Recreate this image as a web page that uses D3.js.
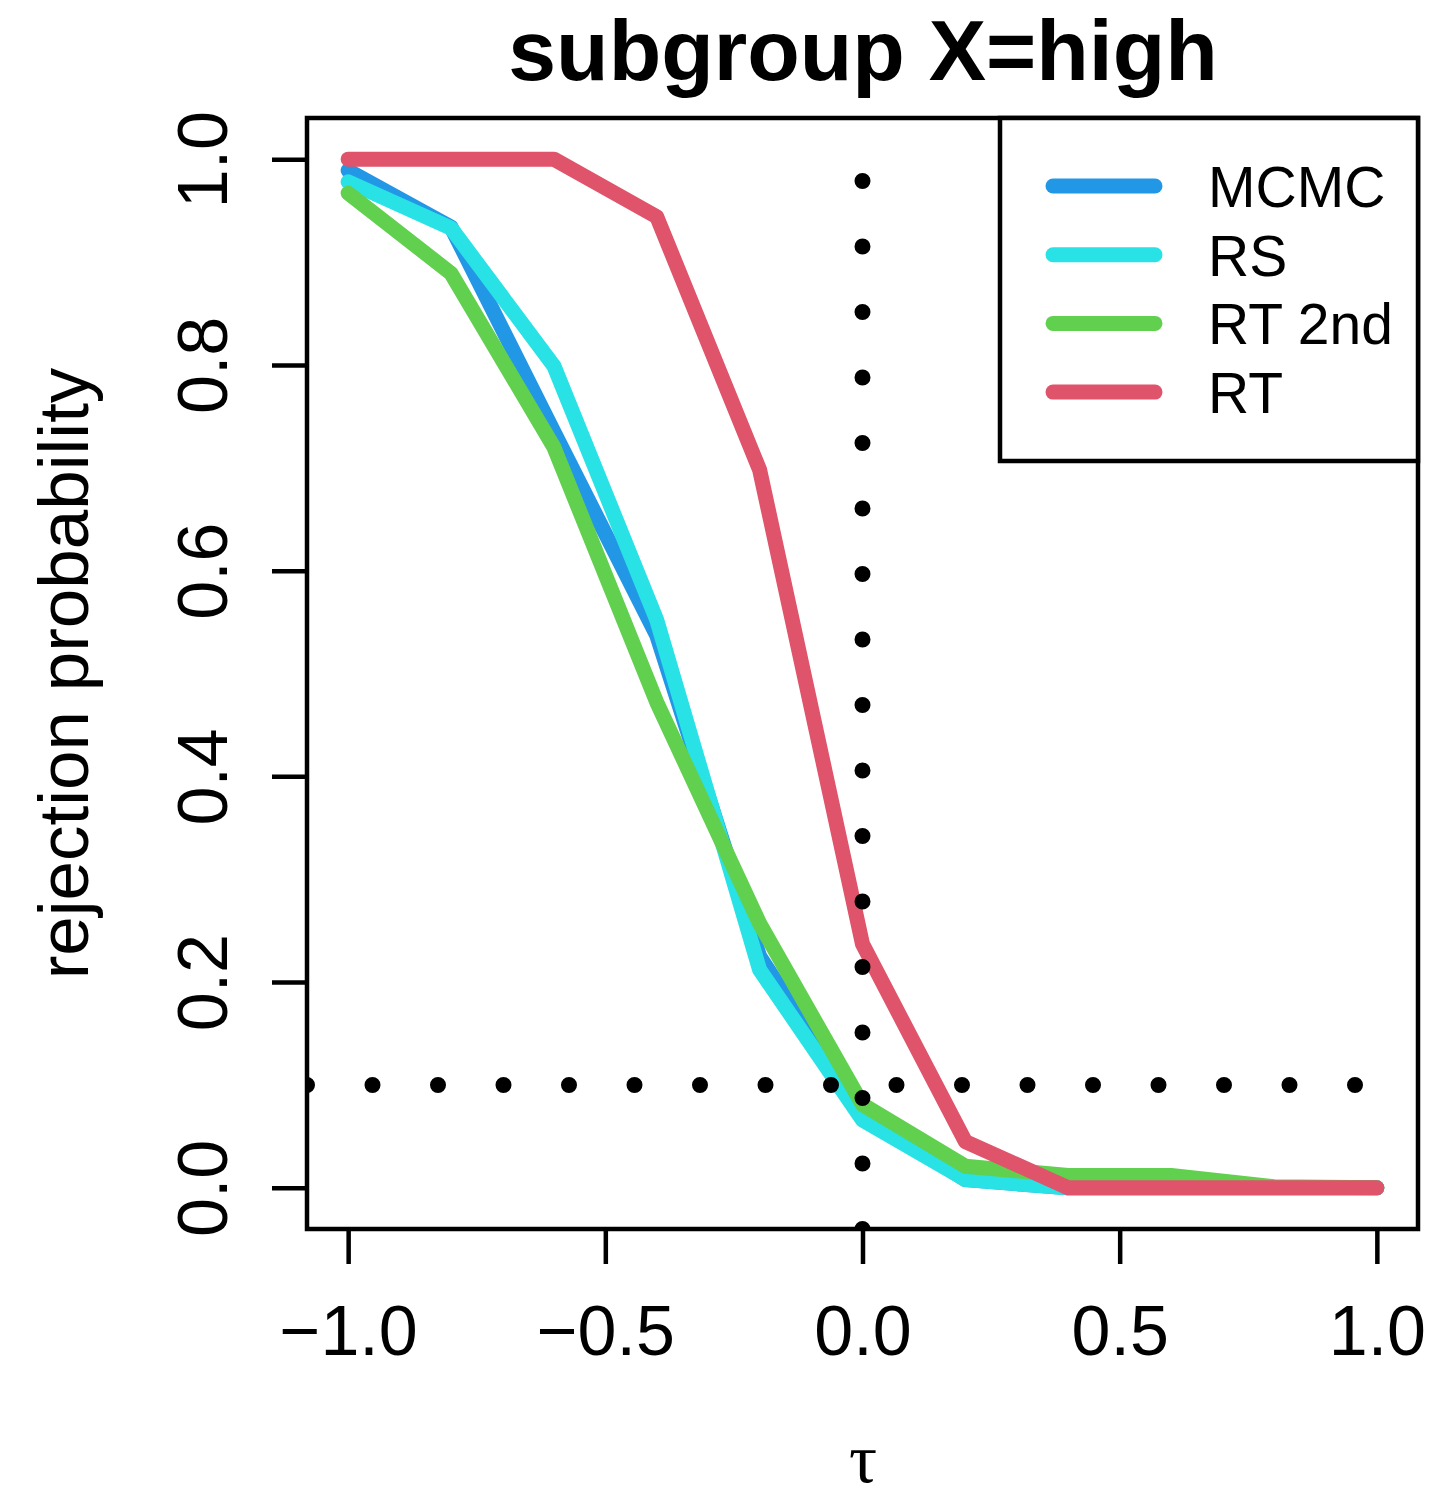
<!DOCTYPE html>
<html>
<head>
<meta charset="utf-8">
<script src="https://cdn.jsdelivr.net/npm/d3@7"></script>
<style>
  body { margin: 0; background: #fff; }
  svg text { font-family: "Liberation Sans", Arial, Helvetica, sans-serif; fill: #000; }
</style>
</head>
<body>
<div id="chart"></div>
<script>
// data
var tau = [-1, -0.8, -0.6, -0.4, -0.2, 0, 0.2, 0.4, 0.6, 0.8, 1];
var mcmc = [0.989, 0.934, 0.735, 0.537, 0.225, 0.072, 0.008, 0, 0, 0, 0];
var rs   = [0.978, 0.933, 0.799, 0.552, 0.212, 0.066, 0.008, 0, 0, 0, 0];
var rt2  = [0.967, 0.889, 0.720, 0.472, 0.257, 0.081, 0.021, 0.012, 0.012, 0.001, 0];
var rt   = [1, 1, 1, 0.944, 0.698, 0.237, 0.045, 0, 0, 0, 0];

var seriesNames = ["MCMC", "RS", "RT 2nd", "RT"];
var seriesColors = ["#2297E6", "#28E2E5", "#61D04F", "#DF536B"];
var seriesValues = [mcmc, rs, rt2, rt];

var xTicks = [-1, -0.5, 0, 0.5, 1];
var yTicks = [0, 0.2, 0.4, 0.6, 0.8, 1];
var alphaLevel = 0.1;

var width = 1439, height = 1498;
var plot = {left: 307, right: 1418, top: 118, bottom: 1229};

var svg = d3.select("#chart").append("svg")
  .attr("width", width)
  .attr("height", height);

var x = d3.scaleLinear().domain([-1.08, 1.08]).range([plot.left, plot.right]);
var y = d3.scaleLinear().domain([-0.04, 1.04]).range([plot.bottom, plot.top]);

svg.append("clipPath").attr("id", "clip")
  .append("rect")
  .attr("x", plot.left).attr("y", plot.top)
  .attr("width", plot.right - plot.left)
  .attr("height", plot.bottom - plot.top);

// series lines
var line = d3.line()
  .x(function(d, i) { return x(tau[i]); })
  .y(function(d) { return y(d); });

svg.append("g")
  .attr("clip-path", "url(#clip)")
  .selectAll("path")
  .data(seriesValues)
  .enter().append("path")
  .attr("d", line)
  .attr("fill", "none")
  .attr("stroke", function(d, i) { return seriesColors[i]; })
  .attr("stroke-width", 15)
  .attr("stroke-linecap", "round")
  .attr("stroke-linejoin", "round");

// dotted reference lines
var ref = svg.append("g").attr("clip-path", "url(#clip)");
ref.append("line")
  .attr("x1", x(0)).attr("x2", x(0))
  .attr("y1", plot.bottom).attr("y2", plot.top);
ref.append("line")
  .attr("x1", plot.left).attr("x2", plot.right)
  .attr("y1", y(alphaLevel)).attr("y2", y(alphaLevel));
ref.selectAll("line")
  .attr("stroke", "#000")
  .attr("stroke-width", 16)
  .attr("stroke-linecap", "round")
  .attr("stroke-dasharray", "0 65.5");

// axes
var xAxis = d3.axisBottom(x)
  .tickValues(xTicks)
  .tickSize(35)
  .tickFormat(function(d) { return d3.format(".1f")(d).replace("-", "\u2212"); });

var gx = svg.append("g")
  .attr("transform", "translate(0," + plot.bottom + ")")
  .call(xAxis);
gx.select(".domain").remove();
gx.selectAll("line").attr("stroke", "#000").attr("stroke-width", 4.5);
gx.selectAll("text")
  .attr("y", 126).attr("dy", 0)
  .style("font-size", "70px");

var yAxis = d3.axisLeft(y)
  .tickValues(yTicks)
  .tickSize(35)
  .tickFormat(d3.format(".1f"));

var gy = svg.append("g")
  .attr("transform", "translate(" + plot.left + ",0)")
  .call(yAxis);
gy.select(".domain").remove();
gy.selectAll("line").attr("stroke", "#000").attr("stroke-width", 4.5);
gy.selectAll("text")
  .attr("x", 0).attr("y", 0).attr("dy", 0)
  .attr("transform", "translate(-80,0) rotate(-90)")
  .style("text-anchor", "middle")
  .style("font-size", "70px");

// box
svg.append("rect")
  .attr("x", plot.left).attr("y", plot.top)
  .attr("width", plot.right - plot.left)
  .attr("height", plot.bottom - plot.top)
  .attr("fill", "none")
  .attr("stroke", "#000")
  .attr("stroke-width", 4.5);

// titles
svg.append("text")
  .attr("x", 863).attr("y", 80)
  .attr("text-anchor", "middle")
  .style("font-size", "86px")
  .style("font-weight", "bold")
  .text("subgroup X=high");

svg.append("text")
  .attr("transform", "translate(88," + ((plot.top + plot.bottom) / 2) + ") rotate(-90)")
  .attr("text-anchor", "middle")
  .style("font-size", "71px")
  .text("rejection probability");

svg.append("text")
  .attr("x", 863).attr("y", 1482)
  .attr("text-anchor", "middle")
  .style("font-family", "'Liberation Serif', 'DejaVu Serif', serif")
  .style("font-size", "70px")
  .text("\u03C4");

// legend
var legend = svg.append("g");
legend.append("rect")
  .attr("x", 1000).attr("y", plot.top)
  .attr("width", plot.right - 1000)
  .attr("height", 461 - plot.top)
  .attr("fill", "#fff")
  .attr("stroke", "#000")
  .attr("stroke-width", 4.5);

var rows = legend.selectAll(".row")
  .data(seriesNames)
  .enter().append("g")
  .attr("class", "row")
  .attr("transform", function(d, i) { return "translate(0," + (186 + i * 68.7) + ")"; });

rows.append("line")
  .attr("x1", 1053).attr("x2", 1155)
  .attr("stroke", function(d, i) { return seriesColors[i]; })
  .attr("stroke-width", 15)
  .attr("stroke-linecap", "round");

rows.append("text")
  .attr("x", 1208).attr("y", 21)
  .style("font-size", "57px")
  .text(function(d) { return d; });
</script>
</body>
</html>
